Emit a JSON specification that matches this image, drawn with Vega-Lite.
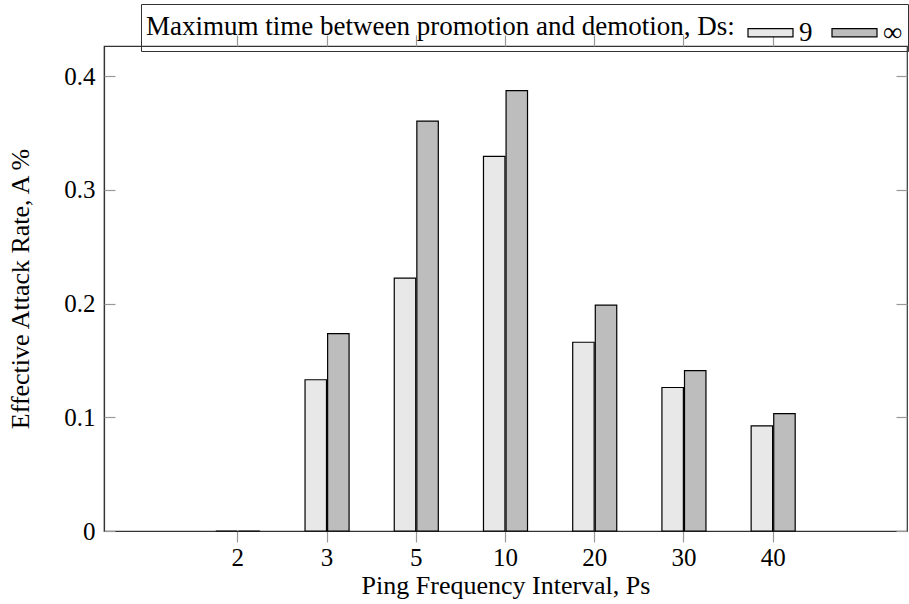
{
  "$schema": "https://vega.github.io/schema/vega-lite/v6.json",
  "width": 803,
  "height": 485,
  "autosize": "none",
  "padding": {"left": 104, "top": 46, "right": 2, "bottom": 73},
  "background": "white",
  "config": {
    "font": "Liberation Serif",
    "view": {"stroke": "#333", "strokeWidth": 1.2},
    "axis": {"grid": false, "domainColor": "#333", "domainWidth": 1.2, "tickColor": "#999", "tickWidth": 1.2, "labelColor": "black", "titleColor": "black", "labelFontSize": 25, "titleFontSize": 26, "titleFontWeight": "normal", "labelFont": "Liberation Serif", "titleFont": "Liberation Serif"}
  },
  "data": {
    "values": [
      {"Ps": "2", "Ds": "9", "A": 0.0},
      {"Ps": "2", "Ds": "∞", "A": 0.0},
      {"Ps": "3", "Ds": "9", "A": 0.133},
      {"Ps": "3", "Ds": "∞", "A": 0.1736},
      {"Ps": "5", "Ds": "9", "A": 0.2223},
      {"Ps": "5", "Ds": "∞", "A": 0.3605},
      {"Ps": "10", "Ds": "9", "A": 0.3295},
      {"Ps": "10", "Ds": "∞", "A": 0.3872},
      {"Ps": "20", "Ds": "9", "A": 0.166},
      {"Ps": "20", "Ds": "∞", "A": 0.1986},
      {"Ps": "30", "Ds": "9", "A": 0.1262},
      {"Ps": "30", "Ds": "∞", "A": 0.1411},
      {"Ps": "40", "Ds": "9", "A": 0.0925},
      {"Ps": "40", "Ds": "∞", "A": 0.1033}
    ]
  },
  "layer": [
    {
      "mark": {"type": "bar", "stroke": "black", "strokeWidth": 1.2},
      "encoding": {
        "x": {
          "field": "Ps", "type": "nominal",
          "sort": ["2", "3", "5", "10", "20", "30", "40"],
          "scale": {"paddingInner": 0, "paddingOuter": 1},
          "axis": {"orient": "bottom", "title": "Ping Frequency Interval, Ps", "labelAngle": 0, "tickSize": 11, "labelPadding": 3, "titlePadding": 2, "domain": true}
        },
        "xOffset": {
          "field": "Ds", "type": "nominal", "sort": ["9", "∞"],
          "scale": {"paddingInner": 0.05, "paddingOuter": 1}
        },
        "y": {
          "field": "A", "type": "quantitative",
          "scale": {"domain": [0, 0.4265], "nice": false, "zero": true},
          "axis": {"orient": "left", "title": "Effective Attack Rate, A %", "values": [0, 0.1, 0.2, 0.3, 0.4], "format": ".1~f", "ticks": false, "labelPadding": 9, "titlePadding": 30}
        },
        "fill": {
          "field": "Ds", "type": "nominal", "sort": ["9", "∞"],
          "scale": {"range": ["#e8e8e8", "#bdbdbd"]},
          "legend": {
            "orient": "none", "legendX": 37, "legendY": -42, "direction": "horizontal",
            "title": "Maximum time between promotion and demotion, Ds:",
            "titleOrient": "left", "titleFontSize": 27, "titleFontWeight": "normal", "titleColor": "black", "titleLimit": 900, "titlePadding": 12, "titleBaseline": "middle",
            "labelFontSize": 27, "labelColor": "black", "labelOffset": 5,
            "symbolType": "M-1,-0.18H1V0.18H-1Z", "symbolSize": 2025, "symbolStrokeColor": "black", "symbolStrokeWidth": 1.2, "symbolOpacity": 1,
            "columnPadding": 16, "padding": 5, "strokeColor": "#333", "fillColor": "transparent", "cornerRadius": 0
          }
        }
      }
    },
    {
      "mark": {"type": "bar", "opacity": 0},
      "encoding": {
        "x": {
          "field": "Ps", "type": "nominal",
          "sort": ["2", "3", "5", "10", "20", "30", "40"],
          "axis": {"orient": "top", "title": null, "labels": false, "ticks": true, "tickSize": 11, "domain": false}
        },
        "xOffset": {"field": "Ds", "type": "nominal", "sort": ["9", "∞"]},
        "y": {
          "field": "A", "type": "quantitative",
          "axis": {"orient": "right", "offset": -803, "title": null, "labels": false, "ticks": true, "values": [0, 0.1, 0.2, 0.3, 0.4], "tickSize": 11, "domain": false}
        }
      }
    },
    {
      "mark": {"type": "bar", "opacity": 0},
      "encoding": {
        "x": {
          "field": "Ps", "type": "nominal",
          "sort": ["2", "3", "5", "10", "20", "30", "40"],
          "axis": null
        },
        "xOffset": {"field": "Ds", "type": "nominal", "sort": ["9", "∞"]},
        "y": {
          "field": "A", "type": "quantitative",
          "axis": {"orient": "left", "offset": -803, "title": null, "labels": false, "ticks": true, "values": [0, 0.1, 0.2, 0.3, 0.4], "tickSize": 11, "domain": false}
        }
      }
    }
  ],
  "resolve": {"axis": {"x": "independent", "y": "independent"}}
}
